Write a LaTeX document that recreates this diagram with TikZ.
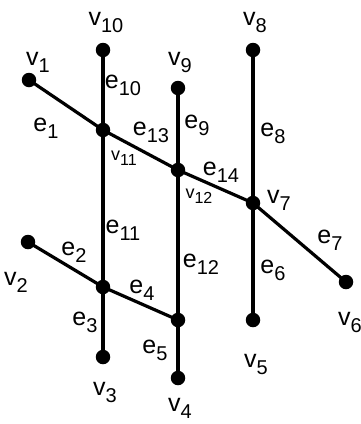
\documentclass[tikz,border=0pt]{standalone}
\usepackage{fontspec}
\setmainfont{Liberation Sans}
\newcommand{\lbl}[2]{{\fontsize{25}{25}\selectfont #1\raisebox{-7pt}{\fontsize{20}{20}\selectfont #2}}}
\newcommand{\slbl}[2]{{\fontsize{18}{18}\selectfont #1\raisebox{-5pt}{\fontsize{16}{16}\selectfont #2}}}
\begin{document}
\begin{tikzpicture}[x=1pt,y=-1pt,
  dot/.style={circle,fill=black,inner sep=0pt,minimum size=14.5pt},
  edge/.style={line width=3.2pt},
  txt/.style={inner sep=0pt,anchor=center}]
\useasboundingbox (0,0) rectangle (361,424);
% vertices
\node[dot] (v1) at (29,80) {};
\node[dot] (v10) at (103,50) {};
\node[dot] (v11) at (103,130) {};
\node[dot] (v9) at (178,88) {};
\node[dot] (v12) at (178,170) {};
\node[dot] (v8) at (253,50) {};
\node[dot] (v7) at (253,203) {};
\node[dot] (v6) at (346,282) {};
\node[dot] (v5) at (253,320) {};
\node[dot] (v2) at (28,242) {};
\node[dot] (a) at (103,287) {};
\node[dot] (b) at (178,320) {};
\node[dot] (v3) at (103,357) {};
\node[dot] (v4) at (178,378) {};
% edges
\draw[edge] (v1.center) -- (v11.center) -- (v12.center) -- (v7.center) -- (v6.center);
\draw[edge] (v10.center) -- (v11.center) -- (a.center) -- (v3.center);
\draw[edge] (v9.center) -- (v12.center) -- (b.center) -- (v4.center);
\draw[edge] (v8.center) -- (v7.center) -- (v5.center);
\draw[edge] (v2.center) -- (a.center) -- (b.center);
% vertex labels
\node[txt] (lv1) at (38,62) {\lbl{v}{1}};
\node[txt] (lv10) at (106,22) {\lbl{v}{10}};
\node[txt] (lv9) at (180,62) {\lbl{v}{9}};
\node[txt] (lv8) at (255,22) {\lbl{v}{8}};
\node[txt] (lv11) at (124,158) {\slbl{v}{11}};
\node[txt] (lv12) at (199,196) {\slbl{v}{12}};
\node[txt] (lv7) at (279,200) {\lbl{v}{7}};
\node[txt] (lv6) at (350,322) {\lbl{v}{6}};
\node[txt] (lv5) at (256,364) {\lbl{v}{5}};
\node[txt] (lv4) at (180,408) {\lbl{v}{4}};
\node[txt] (lv3) at (105,392) {\lbl{v}{3}};
\node[txt] (lv2) at (16,282) {\lbl{v}{2}};
% edge labels
\node[txt] (le10) at (123,85) {\lbl{e}{10}};
\node[txt] (le1) at (46,128) {\lbl{e}{1}};
\node[txt] (le13) at (151,132) {\lbl{e}{13}};
\node[txt] (le9) at (197,125) {\lbl{e}{9}};
\node[txt] (le8) at (273,133) {\lbl{e}{8}};
\node[txt] (le14) at (221,172) {\lbl{e}{14}};
\node[txt] (le11) at (123,230) {\lbl{e}{11}};
\node[txt] (le12) at (201,264) {\lbl{e}{12}};
\node[txt] (le2) at (74,252) {\lbl{e}{2}};
\node[txt] (le4) at (142,290) {\lbl{e}{4}};
\node[txt] (le3) at (85,322) {\lbl{e}{3}};
\node[txt] (le5) at (155,350) {\lbl{e}{5}};
\node[txt] (le6) at (273,270) {\lbl{e}{6}};
\node[txt] (le7) at (330,240) {\lbl{e}{7}};
\end{tikzpicture}
\end{document}
